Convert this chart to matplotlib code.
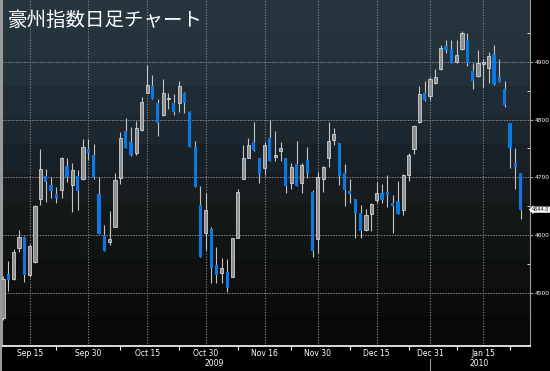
import matplotlib
matplotlib.use('Agg')
import matplotlib.pyplot as plt
from matplotlib.lines import Line2D
from matplotlib.colors import to_rgb
import numpy as np

title = "豪州指数日足チャート"

opens = [4457, 4533, 4524, 4578, 4597, 4531, 4554, 4663, 4703, 4687,
         4671, 4678, 4720, 4687, 4703, 4697, 4749, 4739, 4671, 4600,
         4588, 4614, 4699, 4781, 4761, 4742, 4782, 4846, 4858, 4829,
         4808, 4836, 4829, 4829, 4846, 4813, 4753, 4652, 4604, 4611,
         4548, 4535, 4536, 4528, 4595, 4697, 4734, 4761, 4734, 4716,
         4768, 4736, 4746, 4734, 4690, 4723, 4690, 4730, 4675, 4593,
         4697, 4734, 4765, 4760, 4708, 4677, 4663, 4639, 4609, 4637,
         4661, 4673, 4675, 4656, 4659, 4644, 4704, 4749, 4796, 4846,
         4841, 4864, 4888, 4928, 4923, 4900, 4923, 4938, 4884, 4876,
         4897, 4890, 4914, 4874, 4853, 4794, 4725, 4708]
highs = [4529, 4555, 4576, 4609, 4599, 4585, 4652, 4749, 4715, 4701,
         4684, 4736, 4734, 4725, 4713, 4767, 4767, 4758, 4701, 4618,
         4642, 4708, 4779, 4803, 4787, 4798, 4839, 4895, 4877, 4836,
         4871, 4846, 4845, 4867, 4848, 4815, 4763, 4685, 4673, 4614,
         4580, 4561, 4559, 4595, 4680, 4756, 4768, 4796, 4734, 4761,
         4800, 4781, 4761, 4734, 4725, 4763, 4725, 4753, 4678, 4710,
         4720, 4796, 4786, 4760, 4723, 4697, 4663, 4652, 4645, 4656,
         4692, 4689, 4704, 4670, 4694, 4706, 4742, 4791, 4858, 4867,
         4874, 4888, 4929, 4938, 4938, 4938, 4954, 4950, 4898, 4921,
         4905, 4917, 4929, 4905, 4867, 4794, 4751, 4708]
lows = [4453, 4503, 4523, 4571, 4519, 4528, 4552, 4652, 4658, 4665,
        4656, 4665, 4692, 4640, 4644, 4696, 4730, 4697, 4602, 4573,
        4583, 4614, 4689, 4751, 4737, 4739, 4781, 4846, 4836, 4772,
        4806, 4819, 4808, 4813, 4812, 4753, 4684, 4562, 4574, 4517,
        4517, 4517, 4502, 4528, 4595, 4697, 4734, 4746, 4690, 4704,
        4729, 4729, 4729, 4673, 4680, 4685, 4673, 4699, 4562, 4569,
        4675, 4718, 4756, 4687, 4651, 4656, 4595, 4595, 4607, 4607,
        4656, 4656, 4649, 4604, 4637, 4635, 4694, 4741, 4794, 4832,
        4834, 4862, 4886, 4916, 4898, 4898, 4921, 4893, 4853, 4874,
        4857, 4864, 4860, 4865, 4822, 4716, 4680, 4628]
closes = [4524, 4523, 4571, 4597, 4531, 4581, 4651, 4715, 4692, 4677,
          4665, 4734, 4701, 4713, 4677, 4753, 4742, 4701, 4602, 4573,
          4593, 4696, 4768, 4751, 4739, 4786, 4831, 4860, 4836, 4794,
          4846, 4838, 4813, 4858, 4829, 4753, 4684, 4562, 4644, 4543,
          4531, 4543, 4509, 4595, 4675, 4734, 4756, 4748, 4706, 4756,
          4729, 4739, 4751, 4685, 4718, 4685, 4722, 4708, 4573, 4701,
          4718, 4763, 4775, 4703, 4678, 4671, 4639, 4607, 4635, 4654,
          4673, 4661, 4670, 4651, 4637, 4704, 4739, 4789, 4845, 4834,
          4871, 4874, 4924, 4921, 4898, 4912, 4950, 4898, 4867, 4898,
          4900, 4910, 4862, 4865, 4826, 4751, 4718, 4644]

date_ticks = [5, 16, 27, 38, 49, 59, 70, 80, 90]
date_labels = ["Sep 15", "Sep 30", "Oct 15", "Oct 30", "Nov 16",
               "Nov 30", "Dec 15", "Dec 31", "Jan 15"]
minor_ticks = [10, 22, 33, 44, 54, 65, 76, 85, 95]
price_ticks = [4500, 4600, 4700, 4800, 4900]

fig = plt.figure(figsize=(5.5, 3.71), dpi=100, facecolor='black')
ax = fig.add_axes([2 / 550, 1 - 346 / 371, 528 / 550, 346 / 371])

xlo, xhi = -0.19, 98.75
ylo, yhi = 4408, 5007

# stepped dark background
bands = ['#27353f', '#25333d', '#23313a', '#1f2c35', '#1c272f', '#192128',
         '#161c20', '#131916', '#101412', '#0d0f10', '#0a0b0d', '#08080a']
bg = np.array([[to_rgb(c)] for c in bands])
ax.imshow(bg, extent=[xlo, xhi, ylo, yhi], aspect='auto', zorder=0,
          interpolation='nearest')

# grid
for p in price_ticks:
    ax.axhline(p, color='#8a8a8a', lw=0.6, ls=(0, (2, 1.2)), zorder=1)
for t in date_ticks:
    ax.axvline(t, color='#8a8a8a', lw=0.8, ls=(0, (1, 1.5)), zorder=1)

# candles
x = np.arange(len(opens))
o = np.array(opens)
c = np.array(closes)
up = c >= o
ax.vlines(x, lows, highs, color='#c4c4c4', lw=0.8, zorder=2)
bottom = np.minimum(o, c)
height = np.maximum(np.abs(c - o), 1.5)
ax.bar(x[up], height[up], bottom=bottom[up], width=0.6, color='#8e8e8e',
       edgecolor='#e6e6e6', linewidth=0.5, zorder=3)
ax.bar(x[~up], height[~up], bottom=bottom[~up], width=0.6, color='#0b78e3',
       edgecolor='none', zorder=3)

ax.set_xlim(xlo, xhi)
ax.set_ylim(ylo, yhi)

ax.set_xticks(date_ticks)
ax.set_xticklabels(date_labels)
ax.set_xticks(minor_ticks, minor=True)
ax.tick_params(axis='x', which='major', length=0, pad=2, labelsize=5.5,
               labelcolor='white')
ax.tick_params(axis='x', which='minor', length=3, color='white', width=0.8)

ax.yaxis.tick_right()
ax.set_yticks(price_ticks)
ax.set_yticklabels([str(p) for p in price_ticks])
ax.set_yticks([4550, 4650, 4750, 4850, 4950], minor=True)
ax.tick_params(axis='y', which='major', length=2.5, color='#9a9a9a',
               labelsize=4.2, labelcolor='white', pad=1)
ax.tick_params(axis='y', which='minor', length=2, direction='in',
               color='white')

ax.spines['top'].set_visible(False)
ax.spines['left'].set_color('#9a9a9a')
ax.spines['left'].set_linewidth(1.5)
ax.spines['right'].set_color('#9a9a9a')
ax.spines['bottom'].set_color('white')
ax.spines['bottom'].set_linewidth(1.2)

# last price marker
ax.annotate(f"{closes[-1]:.1f}", xy=(1.0, closes[-1]),
            xycoords=('axes fraction', 'data'), xytext=(1.5, 0),
            textcoords='offset points', va='center', ha='left',
            fontsize=3.6, color='black',
            bbox=dict(boxstyle='larrow,pad=0.12', fc='white', ec='none'),
            annotation_clip=False)

fig.text(8 / 550, 1 - 20 / 371, title, color='white', fontsize=14,
         va='center', ha='left', family=['Noto Sans CJK JP', 'DejaVu Sans'])

fig.text(214 / 550, 1 - 363 / 371, "2009", color='white', fontsize=5.5,
         ha='center', va='center')
fig.text(479 / 550, 1 - 363 / 371, "2010", color='white', fontsize=5.5,
         ha='center', va='center')
fig.add_artist(Line2D([430 / 550, 430 / 550], [0, 1 - 359 / 371],
                      color='#9a9a9a', lw=0.8))
fig.add_artist(Line2D([0.001, 0.001], [0, 1], color='#9a9a9a', lw=1.5))

fig.savefig('out.png', dpi=100, facecolor='black')
